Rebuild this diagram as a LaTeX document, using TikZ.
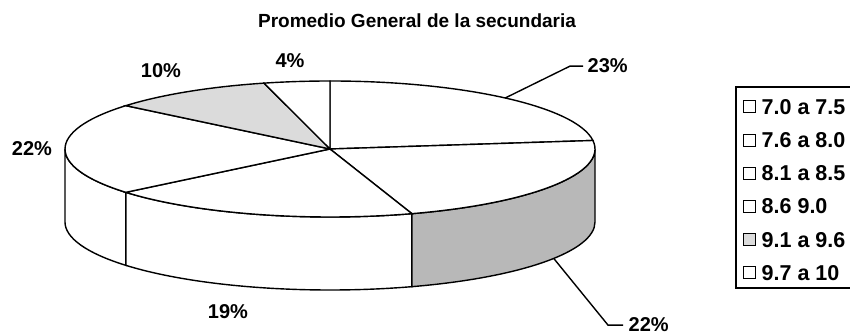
\documentclass[tikz,border=0pt]{standalone}
\usepackage{fontspec}
\setmainfont{Liberation Sans}
\usetikzlibrary{calc}
\definecolor{pielight}{gray}{0.86}
\definecolor{piedark}{gray}{0.72}

\begin{document}
\begin{tikzpicture}[x=1pt,y=1pt,line width=1.4pt,
  pct/.style={font=\fontsize{20}{24}\selectfont\bfseries,inner sep=0pt,anchor=base},
  leg/.style={font=\fontsize{21.5}{26}\selectfont\bfseries,inner sep=0pt,anchor=west},
  rim/.style={x radius=265pt,y radius=68pt}]
\clip (0,0) rectangle (850,336);
\coordinate (C) at (330,187);
\coordinate (D) at (330,114);

\node[pct,font=\fontsize{19}{23}\selectfont\bfseries] (title) at (417,308) {Promedio General de la secundaria};

% side of the pie
\foreach \a/\b/\c in {180/219.6/white,219.6/288/white,288/360/piedark}
	\filldraw[fill=\c] ($(C)+(\a:265pt and 68pt)$) arc[rim,start angle=\a,end angle=\b]
	-- ($(D)+(\b:265pt and 68pt)$) arc[rim,start angle=\b,end angle=\a] -- cycle;
% top of the pie
\foreach \a/\b/\c in {7.2/90/white,-72/7.2/white,-140.4/-72/white,140.4/219.6/white,104.4/140.4/pielight,90/104.4/white}
	\filldraw[fill=\c] (C) -- ($(C)+(\a:265pt and 68pt)$) arc[rim,start angle=\a,end angle=\b] -- cycle;

\coordinate (p23) at ($(C)+(48.6:265pt and 68pt)$);
\coordinate (p22) at ($(D)+(-32.4:265pt and 68pt)$);
\node[pct,anchor=base west] (l23) at (587,263) {23\%};
\node[pct,anchor=base west] (l22b) at (628,4) {22\%};
\draw (p23) -- ([xshift=-17pt]l23.west) -- ([xshift=-4pt]l23.west);
\draw (p22) -- ([xshift=-20pt]l22b.west) -- ([xshift=-5pt]l22b.west);
\node[pct] (l4) at (290,268) {4\%};
\node[pct] (l10) at (161,258) {10\%};
\node[pct] (l22a) at (32,180) {22\%};
\node[pct] (l19) at (228,17) {19\%};

% legend
\draw (736,249) rectangle (870,48);
\foreach \t/\c [count=\i] in {7.0 a 7.5/white,7.6 a 8.0/white,8.1 a 8.5/white,8.6 9.0/white,9.1 a 9.6/pielight,9.7 a 10/white}{
	\node[draw,fill=\c,line width=1pt,minimum size=12pt,inner sep=0pt] (sq\i) at (749,{229-33.2*(\i-1)}) {};
	\node[leg] (lt\i) at (761,{229-33.2*(\i-1)}) {\t};
}
\end{tikzpicture}
\end{document}
